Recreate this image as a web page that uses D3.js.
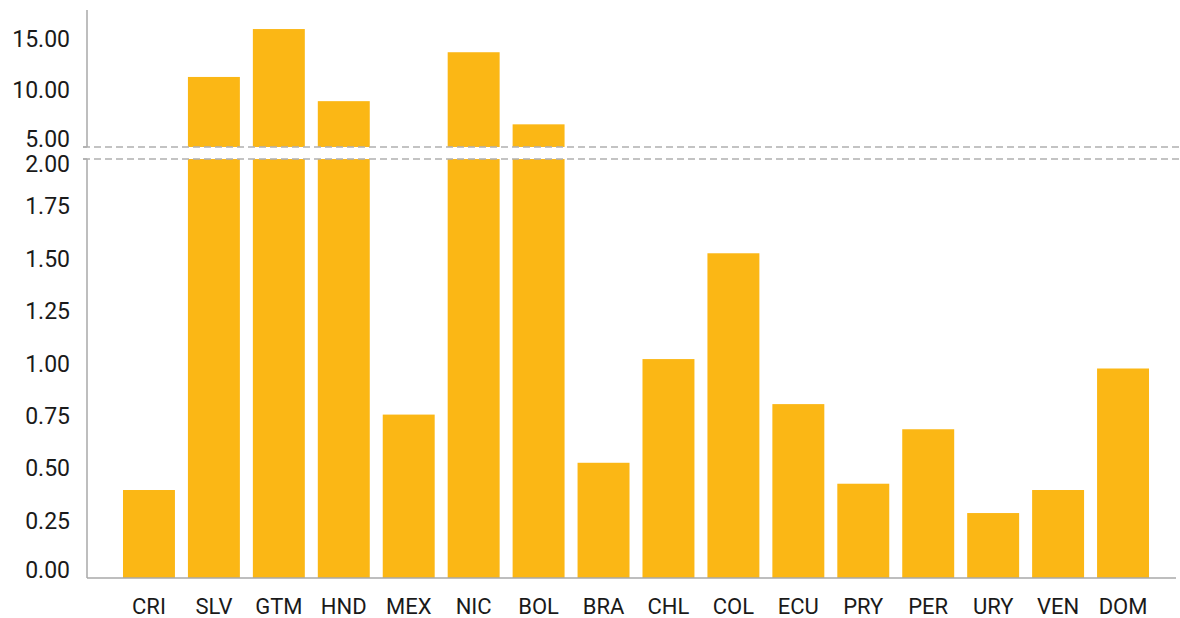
<!DOCTYPE html>
<html>
<head>
  <meta charset="utf-8">
  <title>Broken axis bar chart</title>
  <style>
    body{
      margin: 0;
      padding: 0;
      background-color: #fff;
    }
    .chart text{
      font-family: Roboto, "Noto Sans", sans-serif;
      font-size: 22px;
      fill: #1a1a1a;
    }
    .chart .ylab{
      font-size: 23px;
    }
    .axisline{
      stroke: #a8a8a8;
      stroke-width: 1.5;
    }
    .breakline{
      stroke: #b0b0b0;
      stroke-width: 1.5;
      stroke-dasharray: 7,4;
    }
  </style>
</head>
<body>
<svg class="chart" width="1180" height="618"></svg>

<script src="https://cdn.jsdelivr.net/npm/d3@7"></script>
<script>

var countries = ["CRI","SLV","GTM","HND","MEX","NIC","BOL","BRA","CHL","COL","ECU","PRY","PER","URY","VEN","DOM"];
var values    = [0.42, 11.8, 16.45, 9.45, 0.78, 14.2, 7.2, 0.55, 1.045, 1.55, 0.83, 0.45, 0.71, 0.31, 0.42, 1.0];

var lowTicks  = [0, 0.25, 0.5, 0.75, 1, 1.25, 1.5, 1.75, 2];
var highTicks = [5, 10, 15];

var W = 1180, H = 618;
var axisX = 87;
var lowTop = 159, lowBottom = 578;
var highTop = 10, highBottom = 147;

var svg = d3.select(".chart");

var x = d3.scaleBand()
    .domain(countries)
    .range([110, 1162])
    .paddingInner(0.2)
    .paddingOuter(0.2);

// two y scales, one per segment of the broken axis
var yLow = d3.scaleLinear().domain([0, 2]).range([lowBottom, lowTop]);
var yHigh = d3.scaleLinear().domain([5, 18.3]).range([highBottom, highTop]);

var barColor = "#fbb715";

// lower part of every bar (clipped at 2)
svg.append("g").selectAll("rect")
    .data(countries)
    .enter().append("rect")
    .attr("x", function(d) { return x(d); })
    .attr("width", x.bandwidth())
    .attr("y", function(d, i) { return yLow(Math.min(values[i], 2)); })
    .attr("height", function(d, i) { return lowBottom - yLow(Math.min(values[i], 2)); })
    .attr("fill", barColor);

// upper part for bars above the break
var big = countries.filter(function(d, i) { return values[i] > 2; });
svg.append("g").selectAll("rect")
    .data(big)
    .enter().append("rect")
    .attr("x", function(d) { return x(d); })
    .attr("width", x.bandwidth())
    .attr("y", function(d) { return yHigh(values[countries.indexOf(d)]); })
    .attr("height", function(d) { return highBottom - yHigh(values[countries.indexOf(d)]); })
    .attr("fill", barColor);

// axis lines
svg.append("line").attr("class", "axisline")
    .attr("x1", axisX).attr("x2", axisX)
    .attr("y1", yLow.range()[1]).attr("y2", yLow.range()[0]);
svg.append("line").attr("class", "axisline")
    .attr("x1", axisX).attr("x2", axisX)
    .attr("y1", yHigh.range()[1]).attr("y2", yHigh.range()[0]);
svg.append("line").attr("class", "axisline")
    .attr("x1", axisX).attr("x2", 1176)
    .attr("y1", lowBottom).attr("y2", lowBottom);

// small end ticks at the break
svg.append("line").attr("class", "axisline")
    .attr("x1", axisX - 4).attr("x2", axisX)
    .attr("y1", lowTop).attr("y2", lowTop);
svg.append("line").attr("class", "axisline")
    .attr("x1", axisX - 4).attr("x2", axisX)
    .attr("y1", highBottom).attr("y2", highBottom);

// dashed break lines
svg.append("line").attr("class", "breakline")
    .attr("x1", axisX - 4).attr("x2", W)
    .attr("y1", highBottom).attr("y2", highBottom);
svg.append("line").attr("class", "breakline")
    .attr("x1", axisX - 4).attr("x2", W)
    .attr("y1", lowTop).attr("y2", lowTop);

// tick labels, kept inside their segment
function tickY(scale, v) {
  var r = scale.range();
  return Math.min(Math.max(scale(v) + 3, r[1] + 13), r[0]);
}

svg.append("g").selectAll("text")
    .data(lowTicks)
    .enter().append("text")
    .attr("class", "ylab")
    .attr("x", 70)
    .attr("y", function(d) { return tickY(yLow, d); })
    .attr("text-anchor", "end")
    .text(function(d) { return d3.format(".2f")(d); });

svg.append("g").selectAll("text")
    .data(highTicks)
    .enter().append("text")
    .attr("class", "ylab")
    .attr("x", 70)
    .attr("y", function(d) { return tickY(yHigh, d); })
    .attr("text-anchor", "end")
    .text(function(d) { return d3.format(".2f")(d); });

// category labels
svg.append("g").selectAll("text")
    .data(countries)
    .enter().append("text")
    .attr("x", function(d) { return x(d) + x.bandwidth() / 2; })
    .attr("y", 614)
    .attr("text-anchor", "middle")
    .text(function(d) { return d; });

</script>
</body>
</html>
